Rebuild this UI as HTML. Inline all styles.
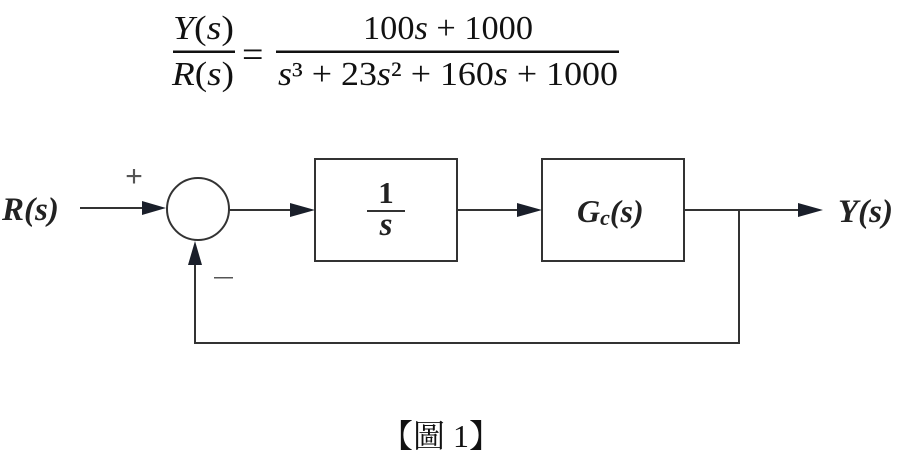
<!DOCTYPE html>
<html><head><meta charset="utf-8"><style>html,body{margin:0;padding:0;background:#fff}svg{display:block}</style></head>
<body>
<svg width="898" height="454" viewBox="0 0 898 454" xmlns="http://www.w3.org/2000/svg">
<g font-family="Liberation Serif, serif" font-size="34" fill="#111">
<text x="173" y="39" textLength="61" lengthAdjust="spacingAndGlyphs"><tspan font-style="italic">Y</tspan>(<tspan font-style="italic">s</tspan>)</text>
<rect x="173" y="50.5" width="62" height="2.5" fill="#111"/>
<text x="172" y="85" textLength="62" lengthAdjust="spacingAndGlyphs"><tspan font-style="italic">R</tspan>(<tspan font-style="italic">s</tspan>)</text>
<text x="242" y="67" font-size="38">=</text>
<rect x="276" y="50.5" width="343" height="2.5" fill="#111"/>
<text x="363" y="39" textLength="170" lengthAdjust="spacingAndGlyphs">100<tspan font-style="italic">s</tspan> + 1000</text>
<text x="278" y="85" textLength="340" lengthAdjust="spacingAndGlyphs"><tspan font-style="italic">s</tspan>³ + 23<tspan font-style="italic">s</tspan>² + 160<tspan font-style="italic">s</tspan> + 1000</text>
</g>
<g stroke="#333" stroke-width="2" fill="none">
<circle cx="198" cy="209" r="31"/>
<rect x="315" y="159" width="142" height="102"/>
<rect x="542" y="159" width="142" height="102"/>
<line x1="80" y1="208" x2="150" y2="208"/>
<line x1="229" y1="210" x2="300" y2="210"/>
<line x1="457" y1="210" x2="528" y2="210"/>
<line x1="684" y1="210" x2="805" y2="210"/>
<polyline points="739,210 739,343 195,343 195,255"/>
</g>
<g fill="#1a1f2a">
<polygon points="166,208 142,201 142,215"/>
<polygon points="315,210 290,203 290,217"/>
<polygon points="542,210 517,203 517,217"/>
<polygon points="823,210 798,203 798,217"/>
<polygon points="195,241 188,265 202,265"/>
</g>
<g font-family="Liberation Serif, serif" font-weight="bold" font-style="italic" fill="#222">
<text x="2" y="220" font-size="33">R(s)</text>
<text x="838" y="222" font-size="33">Y(s)</text>
<text x="577" y="222" font-size="32">G<tspan font-size="22" dy="3">c</tspan><tspan dy="-3">(s)</tspan></text>
</g>
<g font-family="Liberation Serif, serif" font-weight="bold" fill="#222" text-anchor="middle">
<text x="386" y="203" font-size="31">1</text>
<text x="386" y="235" font-size="33" font-style="italic">s</text>
</g>
<rect x="367" y="210" width="38" height="2" fill="#333"/>
<text x="134" y="186" font-family="Liberation Sans, sans-serif" font-size="30" fill="#555" text-anchor="middle">+</text>
<rect x="214" y="277" width="19" height="1.5" fill="#555"/>
<text x="441" y="447" font-family="Liberation Serif, 'Noto Serif CJK SC', serif" font-size="32" fill="#111" text-anchor="middle">【圖 1】</text>
</svg>
</body></html>
